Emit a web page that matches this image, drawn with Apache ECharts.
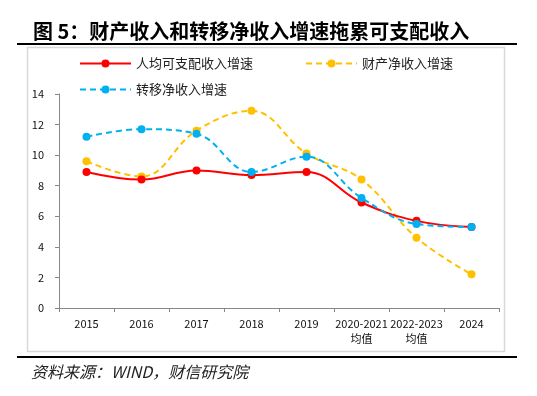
<!DOCTYPE html>
<html>
<head>
<meta charset="utf-8">
<script src="https://cdn.jsdelivr.net/npm/echarts@6/dist/echarts.min.js"></script>
<style>
  html, body { margin: 0; padding: 0; background: #fff; }
  #chart { width: 537px; height: 396px; }
</style>
</head>
<body>
<div id="chart"></div>
<script>
const categories = ['2015', '2016', '2017', '2018', '2019', '2020-2021\n均值', '2022-2023\n均值', '2024'];
const incomeGrowth = [8.9, 8.4, 9.0, 8.7, 8.9, 6.9, 5.7, 5.3];
const propertyGrowth = [9.6, 8.6, 11.6, 12.9, 10.1, 8.4, 4.6, 2.2];
const transferGrowth = [11.2, 11.7, 11.4, 8.9, 9.9, 7.2, 5.5, 5.3];
const yTicks = [0, 2, 4, 6, 8, 10, 12, 14];

const font = '"Noto Sans CJK SC", "Noto Sans", sans-serif';

const container = document.getElementById('chart');
const chart = echarts.init(container, null, { renderer: 'canvas', width: 537, height: 396 });

function legendAt(name, left, top) {
  return {
    data: [name],
    left: left,
    top: top,
    padding: 0,
    itemWidth: 51,
    itemHeight: 10,
    textStyle: { fontFamily: font, fontSize: 13, color: '#222' }
  };
}

chart.setOption({
  animation: false,
  backgroundColor: '#fff',
  title: {
    text: '图 5：财产收入和转移净收入增速拖累可支配收入',
    left: 28,
    top: 16,
    textStyle: { fontFamily: font, fontSize: 20, fontWeight: 'bold', color: '#000' }
  },
  graphic: [
    { type: 'line', shape: { x1: 17, y1: 44, x2: 517, y2: 44 }, style: { stroke: '#000', lineWidth: 2 } },
    { type: 'rect', shape: { x: 27.5, y: 47.5, width: 477, height: 304 }, style: { fill: 'none', stroke: '#d9d9d9', lineWidth: 1.5 }, z: -1 },
    { type: 'line', shape: { x1: 17, y1: 357, x2: 517, y2: 357 }, style: { stroke: '#000', lineWidth: 2 } },
    { type: 'text', left: 31, top: 364, style: { text: '资料来源：WIND，财信研究院', fontFamily: font, fontSize: 16, fontStyle: 'italic', fill: '#222' } }
  ],
  legend: [
    legendAt('人均可支配收入增速', 79, 57),
    legendAt('财产净收入增速', 305, 57),
    legendAt('转移净收入增速', 79, 83)
  ],
  grid: { left: 59, right: 38, top: 94, bottom: 88 },
  xAxis: {
    type: 'category',
    data: categories,
    boundaryGap: true,
    axisLine: { lineStyle: { color: '#888', width: 1 } },
    axisTick: { show: true, length: 4, lineStyle: { color: '#888' } },
    axisLabel: { fontFamily: font, fontSize: 11, color: '#111', margin: 8, lineHeight: 15, interval: 0 }
  },
  yAxis: {
    type: 'value',
    min: 0,
    max: 14,
    interval: 2,
    splitLine: { show: false },
    axisLine: { show: true, lineStyle: { color: '#888', width: 1 } },
    axisTick: { show: true, length: 4, lineStyle: { color: '#888' } },
    axisLabel: {
      fontFamily: font, fontSize: 11, color: '#111', margin: 15,
      formatter: v => (yTicks.includes(v) ? String(v) : '')
    }
  },
  series: [
    {
      name: '人均可支配收入增速',
      type: 'line',
      smooth: 0.4,
      data: incomeGrowth,
      symbol: 'circle',
      symbolSize: 8,
      itemStyle: { color: '#ff0000' },
      lineStyle: { color: '#ff0000', width: 2 },
      z: 3
    },
    {
      name: '财产净收入增速',
      type: 'line',
      smooth: 0.4,
      data: propertyGrowth,
      symbol: 'circle',
      symbolSize: 8,
      itemStyle: { color: '#ffc000' },
      lineStyle: { color: '#ffc000', width: 2, type: [6, 4] },
      z: 2
    },
    {
      name: '转移净收入增速',
      type: 'line',
      smooth: 0.4,
      data: transferGrowth,
      symbol: 'circle',
      symbolSize: 8,
      itemStyle: { color: '#00b0f0' },
      lineStyle: { color: '#00b0f0', width: 2, type: [6, 4] },
      z: 4
    }
  ]
});
</script>
</body>
</html>
